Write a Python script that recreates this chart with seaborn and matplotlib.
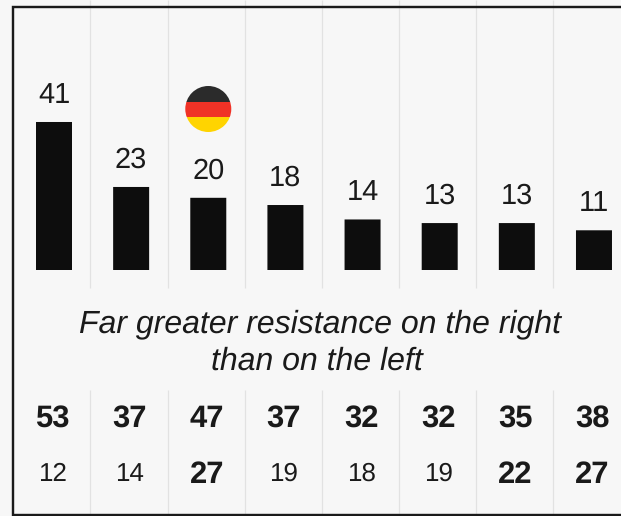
import matplotlib
matplotlib.use("Agg")
import matplotlib.pyplot as plt
from matplotlib.patches import Circle, Rectangle
import pandas as pd
import seaborn as sns

# Data
slots = ["1", "2", "3", "4", "5", "6", "7", "8"]
bar_values = [41, 23, 20, 18, 14, 13, 13, 11]
row_top = [53, 37, 47, 37, 32, 32, 35, 38]
row_bottom = [12, 14, 27, 19, 18, 19, 22, 27]
row_bottom_bold = [False, False, True, False, False, False, True, True]
message_lines = ["Far greater resistance on the right", "than on the left"]
flag_slot = 2

BG = "#f7f7f7"
INK = "#1a1a1a"
BAR = "#0d0d0d"
GRID = "#e2e2e2"

sns.set_theme(style="white")
plt.rcParams["font.family"] = ["Liberation Sans", "DejaVu Sans"]
plt.rcParams["text.kerning_factor"] = 0
plt.rcParams["text.hinting"] = "no_hinting"
plt.rcParams["text.hinting_factor"] = 1

W, H = 621, 516
fig = plt.figure(figsize=(W / 100, H / 100), dpi=100, facecolor=BG)
PX = 0.72  # px -> pt at 100 dpi

# Main axes: one category = 77.14 px, one unit = 3.61 px, zero at y=270 px
PITCH, UNIT, Y0, X0 = 77.14, 3.61, 270, 54
ax = fig.add_axes([0, 0, 1, 1], facecolor=BG)
df = pd.DataFrame({"slot": slots, "value": bar_values})
sns.barplot(data=df, x="slot", y="value", order=slots, color=BAR, saturation=1,
            width=36 / PITCH, ax=ax, zorder=3)
for p in ax.patches:
    p.set_snap(False)
    p.set_linewidth(0)
ax.set_xlim(-X0 / PITCH, (W - X0) / PITCH)
ax.set_ylim(-(H - Y0) / UNIT, Y0 / UNIT)
ax.axis("off")

for i, v in enumerate(bar_values):
    ax.annotate(str(v), (i, v), xytext=(0, 19.2 * PX), textcoords="offset points",
                ha="center", va="baseline", fontsize=28.5 * PX, color=INK)

# Pixel-space overlay for frame, dividers, flag and the text rows
ov = fig.add_axes([0, 0, 1, 1], facecolor="none")
ov.set_xlim(0, W)
ov.set_ylim(H, 0)
ov.axis("off")

for i in range(len(slots) - 1):
    x = X0 - 2.1 + (i + 0.5) * PITCH
    ov.plot([x, x], [0, 288], color=GRID, lw=1.2 * PX, zorder=1, solid_capstyle="butt")
    ov.plot([x, x], [390, H], color=GRID, lw=1.2 * PX, zorder=1, solid_capstyle="butt")

ov.plot([W, 13, 13, W], [6.5, 6.5, 515, 515], color=INK, lw=2.4 * PX,
        zorder=5, solid_joinstyle="miter")

# Flag
fx = X0 + flag_slot * PITCH
clip = Circle((fx, 109), 23, transform=ov.transData, facecolor="none", edgecolor="none")
ov.add_patch(clip)
for top, h, col in [(86, 15.5, "#2b2b2b"), (101.5, 15.5, "#f03226"), (117, 15, "#ffd400")]:
    r = Rectangle((fx - 24, top), 48, h, facecolor=col, edgecolor="none", zorder=4)
    ov.add_patch(r)
    r.set_clip_path(clip)

for line, cx, base in zip(message_lines, [320.5, 316.5], [332, 370]):
    ov.text(cx, base, line, ha="center", va="baseline", style="italic",
            fontsize=32.4 * PX, color=INK)

for i, (a, b, bold) in enumerate(zip(row_top, row_bottom, row_bottom_bold)):
    x = X0 + i * PITCH - 1.5
    ov.text(x, 427, str(a), ha="center", va="baseline", fontweight="bold",
            fontsize=31.5 * PX, color=INK)
    ov.text(x, 483 if bold else 481, str(b), ha="center", va="baseline",
            fontweight="bold" if bold else "normal",
            fontsize=(31.5 if bold else 26) * PX, color=INK)

fig.savefig("out.png", dpi=100, facecolor=BG)
